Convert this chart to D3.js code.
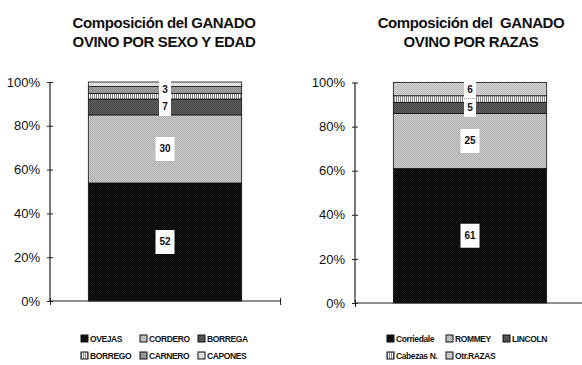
<!DOCTYPE html>
<meta charset="utf-8">
<style>
  body { margin: 0; background: #fff; }
  text { font-family: "Liberation Sans", Arial, sans-serif; fill: #111; }
</style>
<script src="https://d3js.org/d3.v7.min.js"></script>
<svg id="chart" width="582" height="365"></svg>
<script>
  // Data: left chart (sexo y edad)
  var sexoCats = ["OVEJAS", "CORDERO", "BORREGA", "BORREGO", "CARNERO", "CAPONES"];
  var sexoVals = [52, 30, 7, 2.5, 3, 2];
  var sexoLabels = ["52", "30", "7", "", "3", ""];

  // Data: right chart (razas)
  var razaCats = ["Corriedale", "ROMMEY", "LINCOLN", "Cabezas N.", "Otr.RAZAS"];
  var razaVals = [61, 25, 5, 3, 6];
  var razaLabels = ["61", "25", "5", "", "6"];

  var yTicks = [0, 0.2, 0.4, 0.6, 0.8, 1];

  var svg = d3.select("#chart");
  var defs = svg.append("defs");

  // textures that imitate the printed fills
  function dither(id, a, b) {
    var p = defs.append("pattern").attr("id", id)
      .attr("width", 2).attr("height", 2).attr("patternUnits", "userSpaceOnUse");
    p.append("rect").attr("width", 2).attr("height", 2).attr("fill", a);
    p.append("rect").attr("width", 1).attr("height", 1).attr("fill", b);
    p.append("rect").attr("x", 1).attr("y", 1).attr("width", 1).attr("height", 1).attr("fill", b);
  }
  dither("black", "#080808", "#151515");
  dither("dots", "#c8c8c8", "#b2b2b2");
  dither("dark", "#5a5a5a", "#4c4c4c");
  dither("mid", "#a0a0a0", "#8c8c8c");
  dither("pale", "#e6e6e6", "#d6d6d6");
  dither("light", "#d0d0d0", "#c0c0c0");
  var st = defs.append("pattern").attr("id", "stripes")
    .attr("width", 2).attr("height", 2).attr("patternUnits", "userSpaceOnUse");
  st.append("rect").attr("width", 2).attr("height", 2).attr("fill", "#f2f2f2");
  st.append("rect").attr("width", 1).attr("height", 2).attr("fill", "#8a8a8a");

  var sexoFills = ["black", "dots", "dark", "stripes", "mid", "pale"];
  var razaFills = ["black", "dots", "dark", "stripes", "light"];

  function drawChart(cfg) {
    var g = svg.append("g");
    var total = d3.sum(cfg.vals);
    var y = d3.scaleLinear().domain([0, 1]).range([cfg.y0, cfg.y1]);
    var x = d3.scaleBand().domain(["ovino"]).range([cfg.x0, cfg.x1]).paddingOuter(0.25).paddingInner(0);
    var xl = d3.scaleLinear().domain([0, 1]).range([cfg.x0, cfg.x1]);

    // title
    var t = g.append("text").attr("x", cfg.tx).attr("text-anchor", "middle")
      .style("font-weight", "bold").style("font-size", "15px").style("letter-spacing", "-0.4px")
      .style("white-space", "pre");
    cfg.title.forEach(function(line, i) {
      t.append("tspan").attr("x", cfg.tx).attr("y", 28 + i * 19).text(line);
    });

    // stacked segments
    var segs = [], acc = 0;
    cfg.vals.forEach(function(v, i) {
      segs.push({ i: i, lo: acc / total, hi: (acc + v) / total, label: cfg.labels[i] });
      acc += v;
    });
    g.selectAll("rect.seg").data(segs).enter().append("rect")
      .attr("class", "seg")
      .attr("x", x("ovino")).attr("width", x.bandwidth())
      .attr("y", function(d) { return y(d.hi); })
      .attr("height", function(d) { return y(d.lo) - y(d.hi); })
      .attr("fill", function(d) { return "url(#" + cfg.fills[d.i] + ")"; })
      .attr("stroke", "#111").attr("stroke-width", 0.8);

    // value labels on white boxes
    var lab = g.selectAll("g.lab").data(segs.filter(function(d) { return d.label; })).enter()
      .append("g").attr("class", "lab")
      .attr("transform", function(d) {
        return "translate(" + (x("ovino") + x.bandwidth() / 2) + "," + y((d.lo + d.hi) / 2) + ")";
      });
    lab.append("rect")
      .attr("x", function(d) { return d.label.length > 1 ? -9.5 : -6; })
      .attr("width", function(d) { return d.label.length > 1 ? 19 : 12; })
      .attr("y", function(d) { return d.label.length > 1 ? -12 : -9; })
      .attr("height", function(d) { return d.label.length > 1 ? 24 : 18; })
      .attr("fill", "#fdfdfd");
    lab.append("text").attr("text-anchor", "middle").attr("dy", "0.35em")
      .style("font-size", "10px").style("font-weight", "bold")
      .text(function(d) { return d.label; });

    // y axis
    var ya = g.append("g").attr("transform", "translate(" + cfg.x0 + ",0)")
      .call(d3.axisLeft(y).tickValues(yTicks).tickFormat(d3.format(".0%")).tickSize(4).tickPadding(6));
    ya.selectAll(".tick line").attr("x1", 3).attr("x2", -3).attr("stroke", "#222");
    ya.selectAll(".tick text").style("font-size", "13px").attr("fill", "#111");
    ya.select(".domain").attr("stroke", "#222").attr("stroke-width", 1.2).attr("d", "M0," + cfg.y0 + "V" + cfg.y1);

    // x axis
    var xa = g.append("g").attr("transform", "translate(0," + cfg.y0 + ")")
      .call(d3.axisBottom(xl).tickValues([0, 1]).tickFormat("").tickSize(4));
    xa.selectAll(".tick line").attr("y1", -3).attr("y2", 4).attr("stroke", "#222");
    xa.select(".domain").attr("stroke", "#222").attr("stroke-width", 1.2).attr("d", "M" + cfg.x0 + ",0H" + cfg.x1);

    // legend
    var leg = g.selectAll("g.leg").data(cfg.cats).enter().append("g").attr("class", "leg")
      .attr("transform", function(d, i) {
        return "translate(" + cfg.legX[i % cfg.legCols] + "," + (342 + Math.floor(i / cfg.legCols) * 17) + ")";
      });
    leg.append("rect").attr("x", 0).attr("y", -7).attr("width", 7).attr("height", 7)
      .attr("fill", function(d, i) { return "url(#" + cfg.fills[i] + ")"; })
      .attr("stroke", "#111").attr("stroke-width", 1);
    leg.append("text").attr("x", 9).attr("y", 0)
      .style("font-size", "8.5px").style("font-weight", "bold").style("letter-spacing", "-0.4px")
      .text(function(d) { return d; });
  }

  drawChart({
    title: ["Composición del GANADO", "OVINO POR SEXO Y EDAD"], tx: 164,
    cats: sexoCats, vals: sexoVals, labels: sexoLabels, fills: sexoFills,
    x0: 50, x1: 280, y0: 301, y1: 82,
    legX: [81, 140, 198], legCols: 3
  });
  drawChart({
    title: ["Composición del  GANADO", "OVINO POR RAZAS"], tx: 471,
    cats: razaCats, vals: razaVals, labels: razaLabels, fills: razaFills,
    x0: 355, x1: 585, y0: 303, y1: 82.5,
    legX: [387, 446, 503], legCols: 3
  });
</script>
